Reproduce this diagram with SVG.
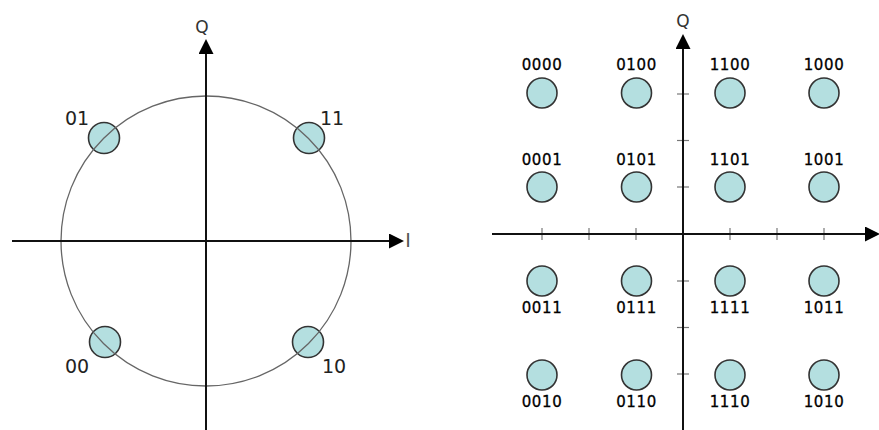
<svg xmlns="http://www.w3.org/2000/svg" width="879" height="430" viewBox="0 0 879 430">
<style>
.pt{fill:#b4dfe0;stroke:#333;stroke-width:1.6}
.ax{stroke:#111;stroke-width:2;fill:none}
.tk{stroke:#777;stroke-width:1.2}
.lbl{font-family:"DejaVu Sans",sans-serif;font-size:19px;fill:#222}
.sl{font-family:"DejaVu Sans",sans-serif;font-size:15px;fill:#000;stroke:#000;stroke-width:0.3;letter-spacing:0.6px;text-anchor:middle}
.axl{font-family:"DejaVu Sans",sans-serif;font-size:17px;fill:#333;text-anchor:middle}
</style>
<defs>
<marker id="ah" markerWidth="15" markerHeight="15" refX="0" refY="7.5" orient="auto" markerUnits="userSpaceOnUse">
<path d="M0,0 L15,7.5 L0,15 Z" fill="#000"/>
</marker>
</defs>
<rect width="879" height="430" fill="#fff"/>
<!-- Left QPSK -->
<g id="qpsk-points">
<g id="p01"><circle class="pt" cx="104" cy="138" r="15.5"/></g>
<g id="p11"><circle class="pt" cx="309" cy="138" r="15.5"/></g>
<g id="p00"><circle class="pt" cx="105" cy="342" r="15.5"/></g>
<g id="p10"><circle class="pt" cx="308" cy="342" r="15.5"/></g>
</g>
<circle cx="206" cy="241" r="145" fill="none" stroke="#666" stroke-width="1.3"/>
<g id="axes-left">
<line class="ax" x1="206" y1="430" x2="206" y2="54" marker-end="url(#ah)"/>
<line class="ax" x1="12" y1="241" x2="389" y2="241" marker-end="url(#ah)"/>
</g>
<text class="axl" x="202" y="33">Q</text>
<text x="408" y="247" font-family="DejaVu Sans,sans-serif" font-size="19" fill="#555" text-anchor="middle">I</text>
<text class="lbl" x="65" y="125">01</text>
<text class="lbl" x="320" y="125">11</text>
<text class="lbl" x="65" y="373">00</text>
<text class="lbl" x="322" y="373">10</text>
<!-- Right 16QAM -->
<g id="axes-right">
<g class="tk">
<line x1="542" y1="228" x2="542" y2="240"/>
<line x1="589" y1="228" x2="589" y2="240"/>
<line x1="636" y1="228" x2="636" y2="240"/>
<line x1="730" y1="228" x2="730" y2="240"/>
<line x1="777" y1="228" x2="777" y2="240"/>
<line x1="824" y1="228" x2="824" y2="240"/>
<line x1="677" y1="94" x2="689" y2="94"/>
<line x1="677" y1="140.5" x2="689" y2="140.5"/>
<line x1="677" y1="187" x2="689" y2="187"/>
<line x1="677" y1="281" x2="689" y2="281"/>
<line x1="677" y1="327.5" x2="689" y2="327.5"/>
<line x1="677" y1="374" x2="689" y2="374"/>
</g>
<line class="ax" x1="683" y1="430" x2="683" y2="49" marker-end="url(#ah)"/>
<line class="ax" x1="492" y1="234" x2="865" y2="234" marker-end="url(#ah)"/>
</g>
<text class="axl" x="683" y="27">Q</text>
<g id="q0000"><circle class="pt" cx="542" cy="93" r="15"/><text class="sl" x="542" y="70">0000</text></g>
<g id="q0100"><circle class="pt" cx="636.5" cy="93" r="15"/><text class="sl" x="636.5" y="70">0100</text></g>
<g id="q1100"><circle class="pt" cx="730" cy="93" r="15"/><text class="sl" x="730" y="70">1100</text></g>
<g id="q1000"><circle class="pt" cx="824" cy="93" r="15"/><text class="sl" x="824" y="70">1000</text></g>
<g id="q0001"><circle class="pt" cx="542" cy="187" r="15"/><text class="sl" x="542" y="165">0001</text></g>
<g id="q0101"><circle class="pt" cx="636.5" cy="187" r="15"/><text class="sl" x="636.5" y="165">0101</text></g>
<g id="q1101"><circle class="pt" cx="730" cy="187" r="15"/><text class="sl" x="730" y="165">1101</text></g>
<g id="q1001"><circle class="pt" cx="824" cy="187" r="15"/><text class="sl" x="824" y="165">1001</text></g>
<g id="q0011"><circle class="pt" cx="542" cy="281" r="15"/><text class="sl" x="542" y="313">0011</text></g>
<g id="q0111"><circle class="pt" cx="636.5" cy="281" r="15"/><text class="sl" x="636.5" y="313">0111</text></g>
<g id="q1111"><circle class="pt" cx="730" cy="281" r="15"/><text class="sl" x="730" y="313">1111</text></g>
<g id="q1011"><circle class="pt" cx="824" cy="281" r="15"/><text class="sl" x="824" y="313">1011</text></g>
<g id="q0010"><circle class="pt" cx="542" cy="375" r="15"/><text class="sl" x="542" y="407">0010</text></g>
<g id="q0110"><circle class="pt" cx="636.5" cy="375" r="15"/><text class="sl" x="636.5" y="407">0110</text></g>
<g id="q1110"><circle class="pt" cx="730" cy="375" r="15"/><text class="sl" x="730" y="407">1110</text></g>
<g id="q1010"><circle class="pt" cx="824" cy="375" r="15"/><text class="sl" x="824" y="407">1010</text></g>
</svg>
